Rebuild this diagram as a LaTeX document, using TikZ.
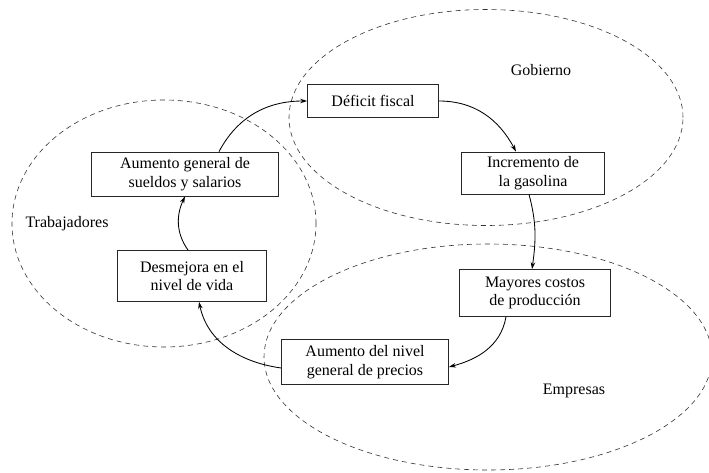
\documentclass[tikz,border=0pt]{standalone}
\usepackage{fontspec}
\setmainfont{Liberation Serif}
\usetikzlibrary{arrows.meta}
\begin{document}
\begin{tikzpicture}[x=1pt,y=1pt,
  boxnode/.style={draw=black!85,line width=0.75pt,inner sep=0pt,align=center,
    font=\fontsize{16}{18.5}\selectfont},
  region/.style={draw=black!80,line width=0.6pt,dash pattern=on 5pt off 4pt},
  lbl/.style={font=\fontsize{16}{18.5}\selectfont,inner sep=0pt},
  flow/.style={line width=0.85pt,-{Stealth[length=7pt,width=4.5pt]}}]
\useasboundingbox (0,0) rectangle (709,472);
% regions
\draw[region] (486,354.5) ellipse [x radius=197, y radius=108];
\draw[region] (164,248.5) ellipse [x radius=152, y radius=123.5];
\draw[region] (488,115) ellipse [x radius=224, y radius=113];
\node[lbl] (gob) at (541,402) {Gobierno};
\node[lbl] (trab) at (67,248) {Trabajadores};
\node[lbl] (emp) at (574,81) {Empresas};
% boxes
\node[boxnode,minimum width=131pt,minimum height=33pt] (def) at (373,371) {Déficit fiscal};
\node[boxnode,minimum width=143pt,minimum height=42pt] (inc) at (533,299) {Incremento de\\la gasolina};
\node[boxnode,minimum width=151pt,minimum height=47pt] (may) at (535,179) {Mayores costos\\de producción};
\node[boxnode,minimum width=167pt,minimum height=45pt] (pre) at (365,110) {Aumento del nivel\\general de precios};
\node[boxnode,minimum width=149pt,minimum height=51pt] (des) at (192,196) {Desmejora en el\\nivel de vida};
\node[boxnode,minimum width=187pt,minimum height=44pt] (sue) at (185,298) {Aumento general de\\sueldos y salarios};
% flows
\draw[flow] ([xshift=34pt]sue.north) to[out=62,in=180] (def.west);
\draw[flow] (def.east) to[out=0,in=118] ([xshift=-17pt]inc.north);
\draw[flow] ([xshift=-4pt]inc.south) to[out=-75,in=82] ([xshift=-3pt]may.north);
\draw[flow] ([xshift=-29pt]may.south) to[out=-100,in=15] ([yshift=-5pt]pre.east);
\draw[flow] ([yshift=-6pt]pre.west) to[out=172,in=-78] ([xshift=7pt]des.south);
\draw[flow] ([xshift=-4pt]des.north) to[out=125,in=-115] (sue.south);
\end{tikzpicture}
\end{document}
